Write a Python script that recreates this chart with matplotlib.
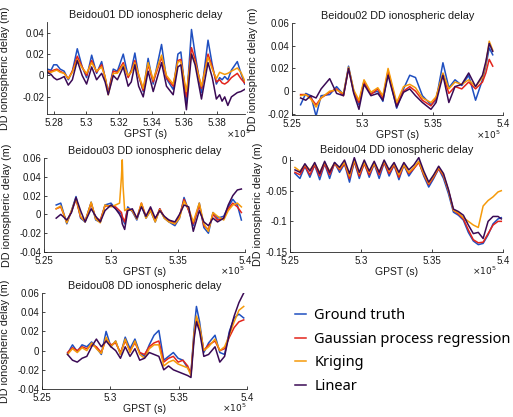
import matplotlib
matplotlib.use("Agg")
import matplotlib.pyplot as plt
from matplotlib.ticker import FuncFormatter

plt.rcParams['font.family'] = ['Liberation Sans', 'DejaVu Sans']

# ---------------- data (GPST seconds, DD ionospheric delay in m) ----------------
t1 = [527600, 527850, 528010, 528200, 528400, 528650, 528900, 529150, 529450, 529750,
      530020, 530330, 530630, 530940, 531150, 531340, 531650, 531900, 532260, 532560,
      532750, 532970, 533200, 533480, 533780, 534090, 534600, 534900, 535310, 535600,
      535780, 536120, 536430, 536650, 537040, 537440, 537700, 537950, 538150, 538300,
      538460, 538650, 538870, 539230, 539450, 539680]
gt1 = [0.006, 0.005, 0.010, 0.010, 0.006, 0.004, -0.004, 0.004, 0.025, 0.008,
       -0.002, 0.019, 0.002, 0.013, -0.002, -0.016, 0.006, 0.004, 0.020, -0.001,
       0.005, 0.021, 0.000, -0.015, 0.016, -0.008, 0.029, -0.003, -0.013, 0.020,
       0.022, -0.026, 0.043, 0.020, -0.016, 0.033, 0.010, -0.008, -0.002, -0.004,
       -0.001, -0.004, 0.005, 0.013, 0.002, -0.008]
gpr1 = [0.004, 0.004, 0.005, 0.006, 0.004, 0.002, -0.003, 0.004, 0.018, 0.008,
        0.000, 0.014, 0.003, 0.010, -0.002, -0.016, 0.004, 0.003, 0.012, -0.002,
        0.004, 0.014, 0.000, -0.014, 0.010, -0.006, 0.017, -0.002, -0.010, 0.014,
        0.015, -0.020, 0.026, 0.015, -0.012, 0.020, 0.008, -0.006, -0.004, -0.007,
        -0.008, -0.006, -0.002, 0.002, -0.003, -0.007]
krig1 = [0.003, 0.003, 0.004, 0.005, 0.003, 0.002, -0.003, 0.003, 0.015, 0.007,
         0.002, 0.012, 0.004, 0.008, -0.001, -0.018, 0.002, 0.002, 0.010, 0.000,
         0.003, 0.012, 0.001, -0.012, 0.012, -0.004, 0.019, 0.000, -0.008, 0.013,
         0.013, -0.015, 0.020, 0.012, -0.010, 0.017, 0.006, -0.003, 0.003, 0.002,
         0.001, 0.002, 0.004, 0.007, 0.003, -0.005]
lin1 = [0.003, 0.001, -0.002, -0.004, -0.003, -0.001, -0.009, -0.004, 0.014, 0.000,
        -0.008, 0.008, -0.004, 0.002, -0.006, -0.018, 0.000, -0.004, 0.008, -0.010,
        -0.006, 0.010, -0.010, -0.020, 0.004, -0.015, 0.012, -0.010, -0.018, 0.008,
        0.010, -0.032, 0.020, 0.010, -0.022, 0.012, -0.002, -0.022, -0.018, -0.024,
        -0.020, -0.028, -0.020, -0.016, -0.015, -0.013]

t2 = [525610, 525980, 526340, 526710, 527070, 527680, 528170, 528660, 529020, 529390,
      529760, 530120, 530610, 531100, 531460, 531830, 532440, 532930, 533370, 533780,
      534270, 534880, 535240, 535730, 536150, 536590, 537070, 537560, 538050, 538540,
      538780, 539020, 539270]
gt2 = [-0.012, -0.002, -0.004, -0.022, -0.004, -0.003, 0.004, -0.003, 0.022, 0.000,
       -0.012, 0.009, -0.002, 0.000, -0.009, 0.017, -0.015, 0.002, 0.014, 0.012,
       -0.004, -0.012, -0.008, 0.025, 0.003, 0.010, 0.005, 0.014, -0.008, 0.010,
       0.022, 0.038, 0.032]
gpr2 = [-0.003, -0.003, -0.006, -0.012, -0.006, -0.001, 0.002, -0.004, 0.020, -0.001,
        -0.010, 0.008, -0.003, 0.002, -0.006, 0.018, -0.012, 0.000, 0.004, 0.000,
        -0.008, -0.013, -0.006, 0.015, -0.002, 0.004, 0.002, 0.008, 0.002, 0.008,
        0.016, 0.028, 0.022]
krig2 = [-0.004, -0.003, -0.007, -0.014, -0.006, 0.000, 0.001, -0.002, 0.021, 0.001,
         -0.008, 0.010, -0.001, 0.003, -0.004, 0.020, -0.010, 0.004, 0.006, 0.003,
         -0.006, -0.010, -0.005, 0.016, 0.002, 0.008, 0.006, 0.010, 0.004, 0.012,
         0.024, 0.044, 0.036]
lin2 = [-0.006, -0.008, -0.004, -0.006, 0.002, 0.011, -0.002, -0.004, 0.020, -0.002,
        -0.016, 0.006, -0.004, -0.002, -0.008, 0.014, -0.014, -0.001, 0.002, -0.004,
        -0.010, -0.016, -0.010, 0.014, -0.010, 0.004, 0.006, 0.016, 0.004, 0.014,
        0.026, 0.042, 0.035]

t3 = [525910, 526250, 526700, 527050, 527390, 527730, 528070, 528520, 528860, 529200,
      529550, 530000, 530340, 530640, 530780, 530840, 530900, 531020, 531250, 531590,
      531930, 532270, 532610, 532950, 533300, 533640, 533980, 534320, 534770, 535110,
      535450, 535800, 536140, 536590, 536930, 537270, 537610, 537950, 538410, 538750,
      539090, 539430, 539730]
gt3 = [0.010, 0.012, -0.010, 0.004, 0.019, -0.004, -0.008, 0.013, -0.006, -0.008,
       0.010, 0.012, 0.006, 0.002, 0.000, -0.004, -0.006, -0.010, 0.008, 0.003,
       -0.006, 0.010, -0.004, 0.004, -0.008, 0.006, -0.004, -0.008, -0.012, -0.004,
       0.018, 0.004, -0.012, 0.012, -0.014, -0.020, 0.002, -0.004, -0.002, 0.008,
       0.016, 0.010, -0.006]
gpr3 = [0.006, 0.008, -0.008, 0.003, 0.016, -0.003, -0.007, 0.012, -0.004, -0.006,
        0.009, 0.009, 0.008, 0.004, 0.002, -0.002, -0.004, -0.008, 0.006, 0.004,
        -0.004, 0.012, -0.002, 0.006, -0.006, 0.006, -0.003, -0.006, -0.010, -0.002,
        0.016, 0.004, -0.010, 0.010, -0.012, -0.016, 0.000, -0.006, -0.004, 0.006,
        0.012, 0.008, 0.002]
krig3 = [0.006, 0.009, -0.009, 0.004, 0.017, -0.002, -0.008, 0.013, -0.005, -0.009,
         0.010, 0.008, 0.010, 0.012, 0.040, 0.058, 0.030, 0.004, 0.006, 0.004,
         -0.005, 0.012, -0.004, 0.004, -0.008, 0.005, -0.004, -0.008, -0.010, -0.004,
         0.014, 0.006, -0.008, 0.012, -0.010, -0.018, 0.002, -0.002, -0.006, 0.004,
         0.010, 0.012, 0.008]
lin3 = [-0.004, 0.000, -0.006, 0.002, 0.018, 0.004, -0.008, 0.006, -0.002, -0.008,
        0.004, 0.010, 0.006, 0.000, -0.004, -0.010, -0.012, -0.016, 0.004, 0.006,
        -0.004, 0.008, -0.002, 0.008, -0.004, 0.004, -0.002, -0.006, -0.008, 0.000,
        0.010, 0.008, -0.018, 0.004, -0.008, -0.012, -0.004, -0.008, -0.004, 0.010,
        0.020, 0.026, 0.027]

t4 = [525350, 525700, 526050, 526400, 526740, 527090, 527440, 527790, 528140, 528490,
      528840, 529190, 529530, 529880, 530230, 530580, 530930, 531280, 531630, 531980,
      532330, 532670, 533020, 533370, 533720, 534070, 534420, 534770, 535120, 535470,
      535810, 536160, 536510, 536860, 537210, 537560, 537910, 538260, 538600, 538950,
      539300, 539650, 539880]
gt4 = [-0.022, -0.030, -0.010, -0.028, -0.008, -0.032, -0.006, -0.030, -0.004, -0.020,
       -0.006, -0.036, -0.002, -0.030, -0.004, -0.028, -0.006, -0.030, -0.004, -0.026,
       -0.008, -0.032, -0.008, -0.026, -0.014, -0.002, -0.026, -0.044, -0.030, -0.014,
       -0.030, -0.055, -0.085, -0.090, -0.098, -0.118, -0.132, -0.138, -0.136, -0.122,
       -0.104, -0.096, -0.094]
gpr4 = [-0.020, -0.024, -0.010, -0.024, -0.008, -0.026, -0.006, -0.024, -0.006, -0.016,
        -0.006, -0.030, -0.002, -0.026, -0.006, -0.024, -0.006, -0.024, -0.004, -0.022,
        -0.008, -0.028, -0.008, -0.022, -0.014, -0.004, -0.024, -0.040, -0.028, -0.014,
        -0.026, -0.050, -0.082, -0.088, -0.096, -0.114, -0.130, -0.135, -0.134, -0.120,
        -0.106, -0.100, -0.100]
krig4 = [-0.012, -0.018, -0.008, -0.016, -0.006, -0.020, -0.004, -0.018, -0.005, -0.014,
         -0.004, -0.026, 0.000, -0.022, -0.004, -0.020, -0.006, -0.020, -0.002, -0.018,
         -0.006, -0.024, -0.008, -0.020, -0.012, -0.002, -0.022, -0.038, -0.026, -0.012,
         -0.024, -0.050, -0.082, -0.086, -0.094, -0.100, -0.106, -0.110, -0.075, -0.066,
         -0.060, -0.052, -0.050]
lin4 = [-0.016, -0.020, -0.006, -0.018, -0.004, -0.022, -0.002, -0.020, -0.004, -0.012,
        0.000, -0.022, 0.004, -0.020, 0.000, -0.018, -0.002, -0.020, 0.000, -0.016,
        -0.004, -0.020, -0.004, -0.016, -0.008, 0.004, -0.018, -0.036, -0.024, -0.010,
        -0.022, -0.048, -0.080, -0.084, -0.090, -0.106, -0.120, -0.118, -0.128, -0.100,
        -0.092, -0.092, -0.096]

t5 = [526870, 527230, 527580, 527930, 528280, 528630, 528980, 529340, 529690, 530040,
      530390, 530740, 531090, 531440, 531800, 532150, 532500, 532850, 533200, 533550,
      533910, 534260, 534610, 534960, 535310, 535660, 535900, 536130, 536300, 536530,
      536840, 537190, 537660, 538010, 538360, 538710, 539060, 539410, 539760]
gt5 = [-0.003, 0.006, -0.001, 0.006, 0.004, 0.009, 0.003, -0.004, 0.020, 0.004,
       0.010, -0.004, 0.014, 0.002, 0.012, -0.002, -0.006, 0.006, 0.016, 0.021,
       -0.010, -0.006, -0.002, -0.008, -0.010, -0.018, -0.024, 0.022, 0.046, 0.030,
       -0.002, 0.008, 0.016, -0.002, -0.004, 0.020, 0.034, 0.038, 0.034]
gpr5 = [-0.002, 0.003, 0.000, 0.004, 0.002, 0.006, 0.004, -0.002, 0.012, 0.006,
        0.008, -0.002, 0.010, 0.000, 0.008, -0.002, -0.004, 0.004, 0.008, 0.010,
        -0.012, -0.008, -0.006, -0.012, -0.010, -0.016, -0.024, 0.016, 0.032, 0.024,
        0.000, 0.006, 0.010, 0.000, 0.002, 0.014, 0.024, 0.030, 0.032]
krig5 = [-0.004, 0.002, -0.002, 0.003, 0.000, 0.008, 0.002, -0.003, 0.014, 0.004,
         0.010, -0.004, 0.012, -0.002, 0.010, -0.004, -0.008, 0.002, 0.006, 0.006,
         -0.016, -0.012, -0.010, -0.014, -0.016, -0.018, -0.026, 0.018, 0.036, 0.026,
         0.000, 0.004, 0.012, 0.000, 0.004, 0.016, 0.030, 0.042, 0.046]
lin5 = [-0.004, -0.010, -0.012, -0.008, -0.006, 0.004, 0.012, 0.004, 0.010, 0.004,
        0.000, -0.008, 0.004, -0.006, 0.002, -0.010, -0.008, -0.002, -0.004, -0.006,
        -0.020, -0.016, -0.020, -0.022, -0.024, -0.026, -0.028, 0.012, 0.030, 0.020,
        -0.006, -0.004, 0.004, -0.012, -0.006, 0.018, 0.036, 0.050, 0.060]

titles = ['Beidou01 DD ionospheric delay', 'Beidou02 DD ionospheric delay',
          'Beidou03 DD ionospheric delay', 'Beidou04 DD ionospheric delay',
          'Beidou08 DD ionospheric delay']
series_names = ['Ground truth', 'Gaussian process regression', 'Kriging', 'Linear']
colors = ['#1f4fc0', '#e3241b', '#f59a0a', '#3a0a55']

panels = [
    (t1, [gt1, gpr1, krig1, lin1]),
    (t2, [gt2, gpr2, krig2, lin2]),
    (t3, [gt3, gpr3, krig3, lin3]),
    (t4, [gt4, gpr4, krig4, lin4]),
    (t5, [gt5, gpr5, krig5, lin5]),
]
xticks = [[528000, 530000, 532000, 534000, 536000, 538000]] + \
         [[525000, 530000, 535000, 540000]] * 4
xlims = [(527600, 539700), (525000, 540000), (525000, 540000), (525000, 540000), (525000, 540000)]
yticks = [[-0.02, 0, 0.02, 0.04], [-0.02, 0, 0.02, 0.04, 0.06],
          [-0.04, -0.02, 0, 0.02, 0.04, 0.06], [-0.15, -0.1, -0.05, 0],
          [-0.04, -0.02, 0, 0.02, 0.04, 0.06]]
ylims = [(-0.036, 0.05), (-0.021, 0.06), (-0.04, 0.06), (-0.15, 0.005), (-0.04, 0.06)]

# ---------------- layout (pixel boxes: left, right, top, bottom) ----------------
W, H = 513, 417
boxes = [(47, 245, 22, 114), (292, 503, 23, 115), (44, 245, 158, 252),
         (290, 503, 157, 252), (42, 247, 293, 389)]
ylab_x = [-0.187, -0.161, -0.16, -0.129, -0.156]
exp_pos = [(1.03, -0.22), (0.99, -0.21), (1.0, -0.2), (0.97, -0.2), (1.0, -0.2)]

fig = plt.figure(figsize=(W / 100, H / 100), dpi=100)
handles = []
for i, ((t, ys), (l, r, tp, b)) in enumerate(zip(panels, boxes)):
    ax = fig.add_axes([l / W, 1 - b / H, (r - l) / W, (b - tp) / H])
    for y, c in zip(ys, colors):
        ln, = ax.plot(t, y, color=c, lw=1.1, solid_joinstyle='round')
        if i == 0:
            handles.append(ln)
    ax.set_xlim(*xlims[i])
    ax.set_ylim(*ylims[i])
    ax.set_xticks(xticks[i])
    ax.set_yticks(yticks[i])
    ax.xaxis.set_major_formatter(FuncFormatter(lambda v, p: f'{v / 1e5:g}'))
    ax.yaxis.set_major_formatter(FuncFormatter(lambda v, p: f'{v:g}'))
    for s in ('top', 'right'):
        ax.spines[s].set_visible(False)
    for s in ('left', 'bottom'):
        ax.spines[s].set_linewidth(0.6)
        ax.spines[s].set_color('#262626')
    ax.tick_params(direction='in', length=2.5, width=0.6, labelsize=7, pad=2,
                   colors='#262626', labelcolor='#1a1a1a')
    ax.tick_params(axis='x', pad=3.2)
    ax.set_title(titles[i], fontsize=7.8, pad=3, color='#1a1a1a')
    ax.set_xlabel('GPST (s)', fontsize=7.5, labelpad=0.5, color='#1a1a1a')
    ax.set_ylabel('DD ionospheric delay (m)', fontsize=7.8, color='#1a1a1a')
    ax.yaxis.set_label_coords(ylab_x[i], 0.5)
    ax.text(exp_pos[i][0], exp_pos[i][1], r'$\times10^{5}$', transform=ax.transAxes,
            ha='right', va='center', fontsize=6.5, color='#1a1a1a')

fig.legend(handles, series_names, loc='upper left',
           bbox_to_anchor=(295 / W, 1 - 308 / H), frameon=False,
           prop={'family': ['Noto Sans', 'DejaVu Sans'], 'size': 10.5},
           handlelength=0.72, handletextpad=0.6, labelspacing=0.6,
           borderpad=0, borderaxespad=0)

fig.savefig('out.png', dpi=100, facecolor='white')
